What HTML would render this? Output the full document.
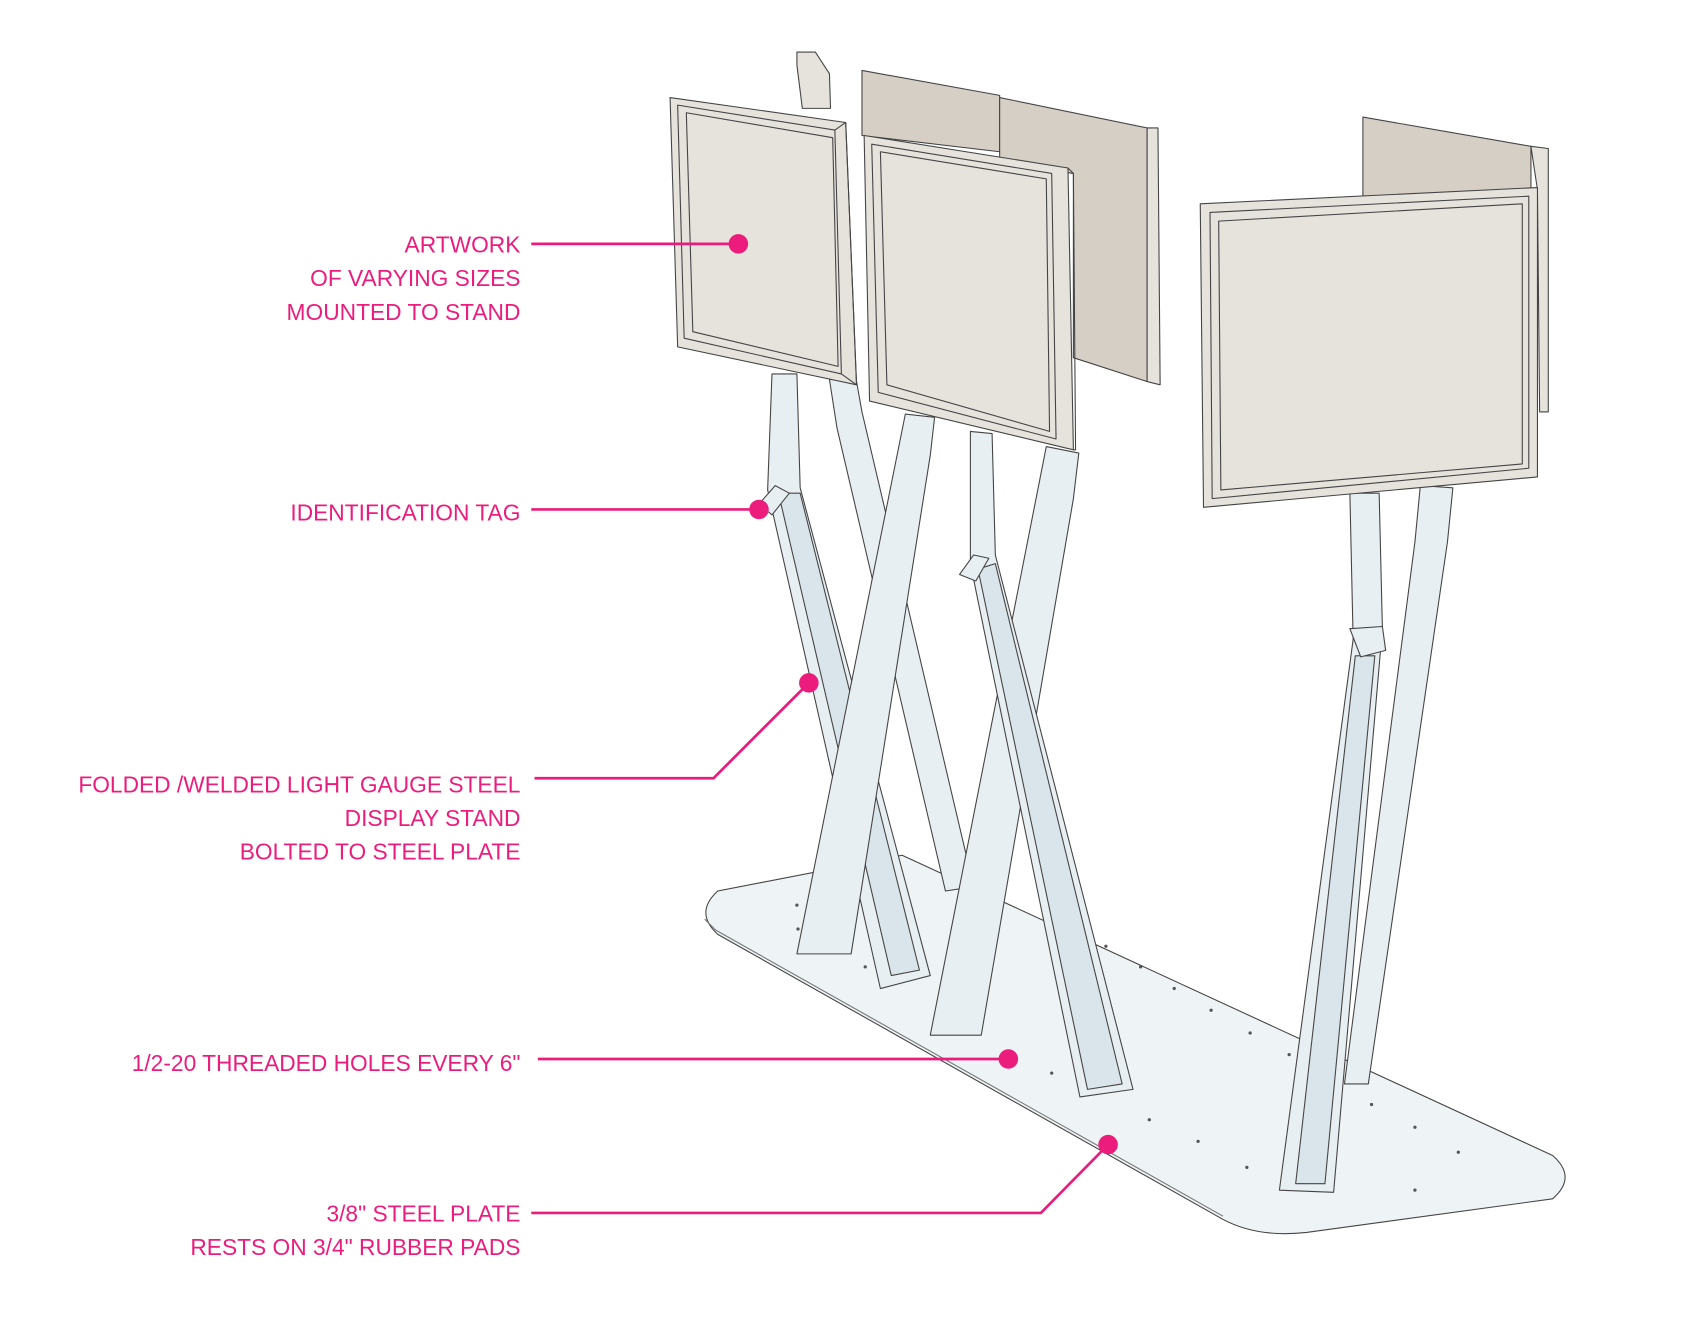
<!DOCTYPE html>
<html><head><meta charset="utf-8"><style>
html,body{margin:0;padding:0;background:#fff;width:1699px;height:1330px;overflow:hidden}
svg{display:block}
text{font-family:"Liberation Sans Narrow","Liberation Sans",sans-serif;font-size:21px;fill:#ec1c7c;text-anchor:end}
</style></head><body>
<svg width="1699" height="1330" viewBox="0 0 1567 1227" preserveAspectRatio="none" xmlns="http://www.w3.org/2000/svg">
<g stroke="#444" stroke-width="1" stroke-linejoin="round">
<path d="M662,822 L832,789 L1432,1066 Q1455,1086 1432,1106 L1205,1137 Q1160,1142 1128,1125 L662,862 Q640,842 662,822 Z" fill="#eef3f5"/>
<path d="M650,848 L660,858 L1128,1122" fill="none" stroke="#777"/>
<g fill="#555" stroke="none">
<circle cx="735" cy="835" r="1.5"/><circle cx="736" cy="857" r="1.5"/><circle cx="798" cy="892" r="1.5"/><circle cx="1020" cy="873" r="1.5"/><circle cx="1052" cy="892" r="1.5"/><circle cx="1083" cy="912" r="1.5"/><circle cx="1117" cy="932" r="1.5"/><circle cx="1153" cy="953" r="1.5"/><circle cx="1189" cy="973" r="1.5"/><circle cx="970" cy="990" r="1.5"/><circle cx="1060" cy="1033" r="1.5"/><circle cx="1105" cy="1053" r="1.5"/><circle cx="1150" cy="1077" r="1.5"/><circle cx="1265" cy="1019" r="1.5"/><circle cx="1305" cy="1040" r="1.5"/><circle cx="1345" cy="1063" r="1.5"/><circle cx="1305" cy="1098" r="1.5"/>
</g>
<path d="M795,65 L922,88 L922,140 L795,125 Z" fill="#d6cfc6"/>
<path d="M922,90 L1058,118 L1058,352 L990,330 L990,160 L922,150 Z" fill="#d6cfc6"/>
<path d="M1058,118 L1068,118 L1070,355 L1058,352 Z" fill="#e6e2dc"/>
<path d="M1257,108 L1412,135 L1412,180 L1257,195 Z" fill="#d6cfc6"/>
<path d="M1412,135 L1428,137 L1428,380 L1420,380 L1418,175 Z" fill="#e6e2dc"/>
<path d="M735,48 L752,48 L765,68 L766,100 L740,100 L735,60 Z" fill="#e6e2dc"/>
<path d="M765,350 L790,352 L795,380 L898,818 L872,822 L772,395 Z" fill="#e8eff2"/>
<path d="M712,345 L735,345 L738,450 L858,900 L812,912 L708,452 Z" fill="#e8eff2"/>
<path d="M718,455 L738,455 L848,895 L822,900 Z" fill="#d9e4eb"/>
<path d="M700,465 L715,448 L728,455 L712,475 Z" fill="#e8eff2"/>
<path d="M835,382 L862,385 L858,420 L785,880 L735,880 Z" fill="#e8eff2"/>
<path d="M965,412 L995,418 L990,460 L905,955 L858,955 Z" fill="#e8eff2"/>
<path d="M895,398 L915,400 L918,512 L1045,1005 L996,1012 L895,520 Z" fill="#e8eff2"/>
<path d="M902,525 L918,520 L1035,1000 L1003,1005 Z" fill="#d9e4eb"/>
<path d="M885,530 L898,512 L912,515 L900,536 Z" fill="#e8eff2"/>
<path d="M1310,448 L1340,450 L1335,500 L1262,1000 L1240,1000 L1305,500 Z" fill="#e8eff2"/>
<path d="M1245,455 L1272,455 L1275,580 L1230,1100 L1180,1098 L1248,590 Z" fill="#e8eff2"/>
<path d="M1250,605 L1268,605 L1222,1092 L1195,1092 Z" fill="#d9e4eb"/>
<path d="M1245,580 L1275,578 L1278,600 L1255,606 Z" fill="#e8eff2"/>
<path d="M618,90 L780,113 L790,355 L625,320 Z" fill="#e6e2dc"/>
<path d="M625,97 L770,120 L776,345 L631,312 Z" fill="#e6e2dc"/>
<path d="M633,104 L768,127 L773,338 L639,306 Z" fill="#e6e2dc"/>
<path d="M770,120 L780,113 L790,355 L776,345" fill="none"/>
<path d="M797,125 L985,155 L990,415 L802,370 Z" fill="#e6e2dc"/>
<path d="M804,133 L970,160 L974,405 L810,362 Z" fill="#e6e2dc"/>
<path d="M812,140 L965,165 L968,398 L818,355 Z" fill="#e6e2dc"/>
<path d="M985,155 L990,160 L992,415 L990,415" fill="none"/>
<path d="M1107,188 L1418,173 L1418,440 L1110,468 Z" fill="#e6e2dc"/>
<path d="M1116,196 L1410,181 L1410,432 L1118,460 Z" fill="#e6e2dc"/>
<path d="M1124,204 L1404,188 L1404,428 L1126,452 Z" fill="#e6e2dc"/>
</g>
<g stroke="#ec1c7c" stroke-width="2.5" fill="none">
<path d="M490,225 L681,225"/><path d="M490,470 L700,470"/><path d="M493,718 L658,718 L746,630"/><path d="M496,977 L930,977"/><path d="M490,1119 L960,1119 L1022,1056"/>
</g>
<g fill="#ec1c7c">
<circle cx="681" cy="225" r="9"/><circle cx="700" cy="470" r="9"/><circle cx="746" cy="630" r="9"/><circle cx="930" cy="977" r="9"/><circle cx="1022" cy="1056" r="9"/>
</g>
<text x="480" y="233">ARTWORK</text>
<text x="480" y="264">OF VARYING SIZES</text>
<text x="480" y="295">MOUNTED TO STAND</text>
<text x="480" y="480">IDENTIFICATION TAG</text>
<text x="480" y="731">FOLDED /WELDED LIGHT GAUGE STEEL</text>
<text x="480" y="762">DISPLAY STAND</text>
<text x="480" y="793">BOLTED TO STEEL PLATE</text>
<text x="480" y="988">1/2-20 THREADED HOLES EVERY 6"</text>
<text x="480" y="1127">3/8" STEEL PLATE</text>
<text x="480" y="1158">RESTS ON 3/4" RUBBER PADS</text>
</svg>
</body></html>
